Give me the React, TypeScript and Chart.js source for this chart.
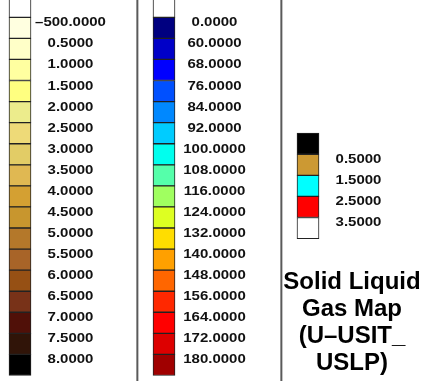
import React, { useEffect, useRef } from 'react';
import { Chart, registerables } from 'chart.js';

Chart.register(...registerables);

// Left colour bar (top to bottom cells, labels at the cell boundaries)
const soilLabels = ['–500.0000', '0.5000', '1.0000', '1.5000', '2.0000', '2.5000', '3.0000', '3.5000', '4.0000', '4.5000', '5.0000', '5.5000', '6.0000', '6.5000', '7.0000', '7.5000', '8.0000'];
const soilColors = ['#FFFFFF', '#FFFFE0', '#FFFFC8', '#FFFFA0', '#FFFF80', '#ECEC8C', '#EEDA78', '#E2CC66', '#E0B852', '#D4A032', '#C8962E', '#B4782A', '#A86428', '#965014', '#783218', '#501008', '#301408', '#000000'];

// Middle colour bar
const tempLabels = ['0.0000', '60.0000', '68.0000', '76.0000', '84.0000', '92.0000', '100.0000', '108.0000', '116.0000', '124.0000', '132.0000', '140.0000', '148.0000', '156.0000', '164.0000', '172.0000', '180.0000'];
const tempColors = ['#FFFFFF', '#000080', '#0000C8', '#0000FF', '#0050FF', '#0088FF', '#00CCFF', '#00FFEE', '#55FFAA', '#A0FF60', '#DDFF22', '#FFDD00', '#FFA000', '#FF6600', '#FF2800', '#FF0000', '#DD0000', '#A00000'];

// Right (phase) colour bar
const phaseLabels = ['0.5000', '1.5000', '2.5000', '3.5000'];
const phaseColors = ['#000000', '#CC9933', '#00FFFF', '#FF0000', '#FFFFFF'];

const titleLines = ['Solid Liquid', 'Gas Map', '(U–USIT_', 'USLP)'];

const cellSize = 1;

type Column = { x: number; base: number; colors: string[]; labels: string[] };
const columns: Column[] = [
  { x: 0, base: 0, colors: soilColors, labels: soilLabels },
  { x: 1, base: 0, colors: tempColors, labels: tempLabels },
  { x: 2, base: 6.5, colors: phaseColors, labels: phaseLabels },
];

function buildData(col: Column) {
  const n = col.colors.length;
  return col.colors.map((_, k) => ({
    x: col.x,
    y: [col.base + (n - 1 - k) * cellSize, col.base + (n - k) * cellSize],
  }));
}

const overlayPlugin = {
  id: 'overlay',
  afterDatasetsDraw(chart: any) {
    const ctx = chart.ctx as CanvasRenderingContext2D;
    const xs = chart.scales.x;
    const ys = chart.scales.y;
    const area = chart.chartArea;
    ctx.save();
    // dividers
    ctx.strokeStyle = '#5a5a5a';
    ctx.lineWidth = 2;
    [0.815, 1.815].forEach((v) => {
      const px = xs.getPixelForValue(v);
      ctx.beginPath();
      ctx.moveTo(px, area.top);
      ctx.lineTo(px, area.bottom);
      ctx.stroke();
    });
    // labels
    ctx.fillStyle = '#111';
    ctx.font = 'bold 12.5px "Liberation Sans", Arial, sans-serif';
    ctx.textAlign = 'center';
    ctx.textBaseline = 'alphabetic';
    columns.forEach((col) => {
      const m = col.labels.length;
      col.labels.forEach((lab, i) => {
        const px = xs.getPixelForValue(col.x + 0.3507);
        const py = ys.getPixelForValue(col.base + (m - i) * cellSize) + 9;
        ctx.save();
        ctx.translate(px, py);
        ctx.scale(1.2, 1);
        ctx.fillText(lab, 0, 0);
        ctx.restore();
      });
    });
    // title
    const key = columns[2];
    const tx = xs.getPixelForValue(key.x) + 44;
    const ty0 = ys.getPixelForValue(key.base) + 50;
    ctx.fillStyle = '#000';
    ctx.font = 'bold 24px "Liberation Sans", Arial, sans-serif';
    titleLines.forEach((line, i) => {
      ctx.fillText(line, tx, ty0 + i * 27.3);
    });
    ctx.restore();
  },
};

export default function App() {
  const ref = useRef<HTMLCanvasElement | null>(null);
  useEffect(() => {
    if (!ref.current) return;
    const chart = new Chart(ref.current, {
      type: 'bar',
      data: {
        datasets: columns.map((col) => ({
          data: buildData(col) as any,
          backgroundColor: col.colors,
          borderColor: '#222',
          borderWidth: 1,
          borderSkipped: false,
          barThickness: 22,
          grouped: false,
        })),
      },
      options: {
        animation: false,
        responsive: false,
        devicePixelRatio: 1,
        layout: { padding: 0 },
        plugins: { legend: { display: false }, tooltip: { enabled: false }, title: { display: false } },
        scales: {
          x: { type: 'linear', min: -20 / 144, max: 405 / 144, offset: false, display: false },
          y: { type: 'linear', min: -5.5 / 21.07, max: 375.5 / 21.07, display: false },
        },
      } as any,
      plugins: [overlayPlugin],
    });
    return () => chart.destroy();
  }, []);
  return (
    <div style={{ position: 'fixed', left: 0, top: 0, width: 425, height: 381, background: '#fff' }}>
      <canvas ref={ref} width={425} height={381} style={{ display: 'block' }} />
    </div>
  );
}
